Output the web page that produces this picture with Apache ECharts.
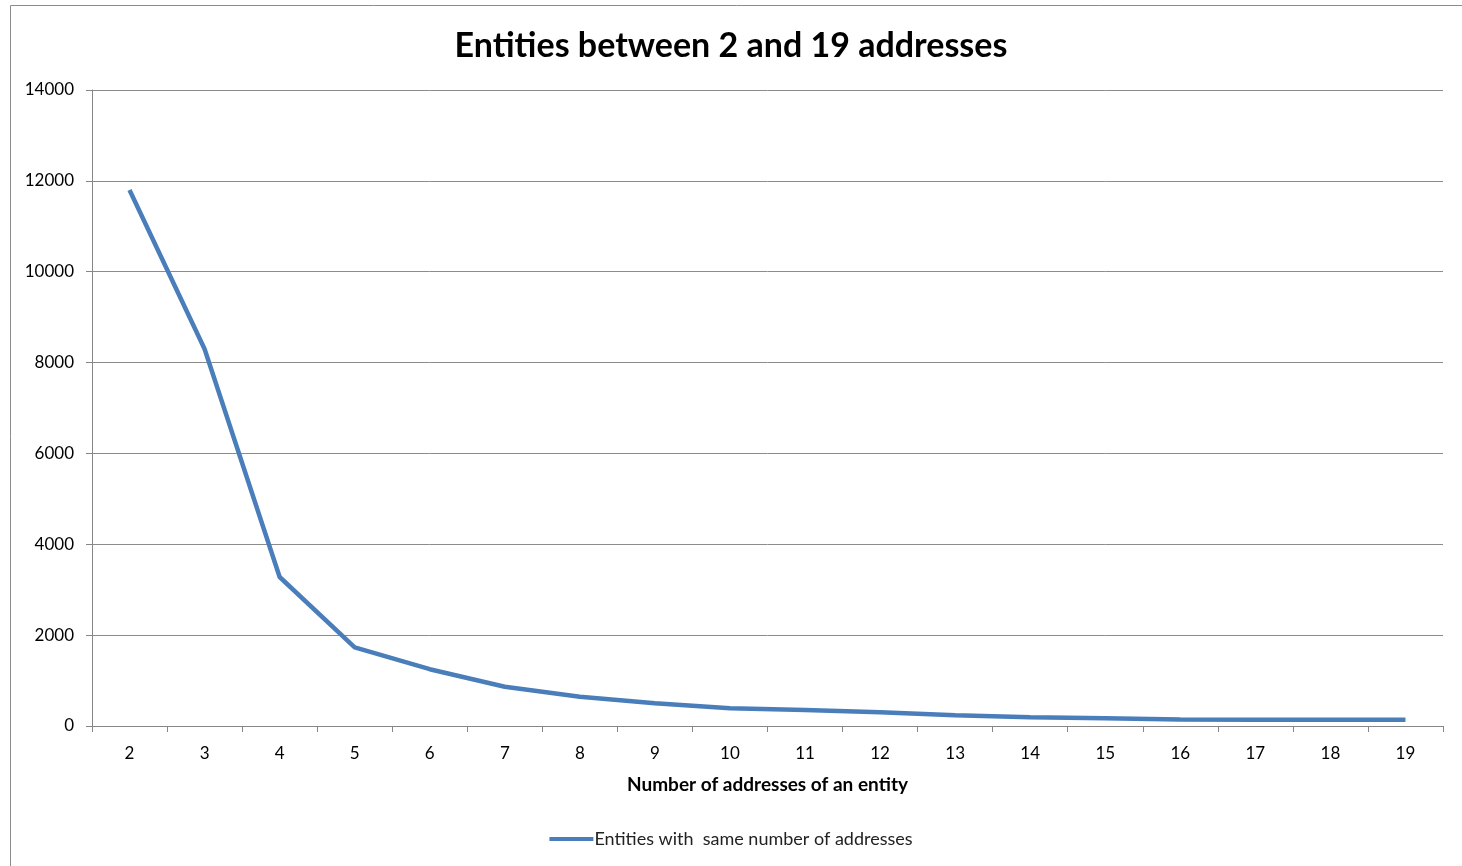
<!DOCTYPE html>
<html>
<head>
<meta charset="utf-8">
<script src="https://cdn.jsdelivr.net/npm/echarts@6/dist/echarts.min.js"></script>
<style>
  html, body { margin: 0; padding: 0; background: #fff; }
  #chart { width: 1462px; height: 866px; }
</style>
</head>
<body>
<div id="chart"></div>
<script>
// x categories: number of addresses per entity
const addressCounts = ['2', '3', '4', '5', '6', '7', '8', '9', '10', '11', '12', '13', '14', '15', '16', '17', '18', '19']
// entities with the same number of addresses
const entityCounts = [11800, 8300, 3280, 1730, 1250, 865, 645, 500, 390, 352, 300, 235, 195, 170, 145, 140, 140, 140]
const yTicks = { min: 0, max: 14000, interval: 2000 }

const chart = echarts.init(document.getElementById('chart'))
const font = 'Lato, "Open Sans", sans-serif'
const option = {
  animation: false,
  title: {
    text: 'Entities between 2 and 19 addresses',
    left: 'center',
    top: 24,
    textStyle: { fontFamily: font, fontSize: 34, fontWeight: 'bold', color: '#000' }
  },
  graphic: [
    {
      type: 'rect',
      shape: { x: 10.5, y: 5.5, width: 1470, height: 880 },
      style: { fill: 'none', stroke: '#8c8c8c', lineWidth: 1 },
      silent: true
    }
  ],
  legend: {
    bottom: 13,
    left: 'center',
    itemWidth: 44,
    itemHeight: 4,
    icon: 'rect',
    textStyle: { fontFamily: font, fontSize: 18, color: '#222', padding: [0, 0, 0, -4] },
    data: ['Entities with  same number of addresses']
  },
  grid: { left: 92, right: 19, top: 90, bottom: 140 },
  xAxis: {
    type: 'category',
    data: addressCounts,
    boundaryGap: true,
    name: 'Number of addresses of an entity',
    nameLocation: 'middle',
    nameGap: 49,
    nameTextStyle: { fontFamily: font, fontSize: 19, fontWeight: 'bold', color: '#000' },
    axisLine: { lineStyle: { color: '#868686', width: 1 } },
    axisTick: { show: true, length: 6, lineStyle: { color: '#868686' } },
    axisLabel: { fontFamily: font, fontSize: 17, color: '#000', margin: 19 }
  },
  yAxis: {
    type: 'value',
    min: yTicks.min,
    max: yTicks.max,
    interval: yTicks.interval,
    axisLine: { show: true, lineStyle: { color: '#868686', width: 1 } },
    axisTick: { show: true, length: 6, lineStyle: { color: '#868686' } },
    axisLabel: { fontFamily: font, fontSize: 17, color: '#000', margin: 18, formatter: v => String(v) },
    splitLine: { lineStyle: { color: '#8c8c8c', width: 1 } }
  },
  series: [
    {
      name: 'Entities with  same number of addresses',
      type: 'line',
      data: entityCounts,
      symbol: 'none',
      lineStyle: { color: '#4a7ebb', width: 4.5 },
      itemStyle: { color: '#4a7ebb' }
    }
  ]
}
chart.setOption(option)
</script>
</body>
</html>
